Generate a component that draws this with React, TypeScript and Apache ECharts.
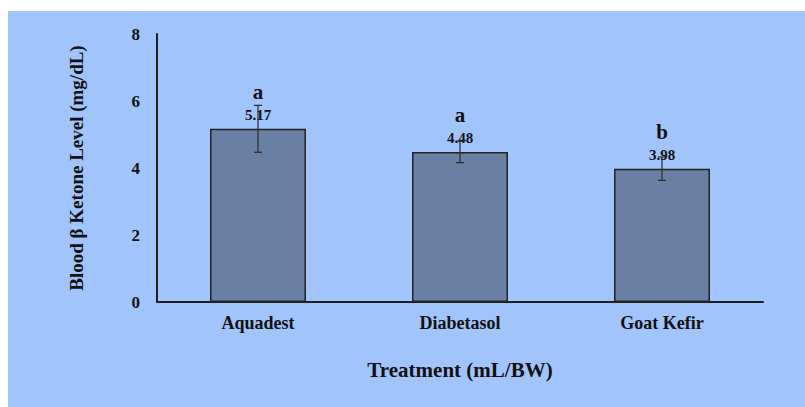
import React, { useEffect, useRef } from "react";
import * as echarts from "echarts";

const categories = ["Aquadest", "Diabetasol", "Goat Kefir"];
const means = [5.17, 4.48, 3.98];
const errors = [0.7, 0.32, 0.35];
const letters = ["a", "a", "b"];
const yTicks = [0, 2, 4, 6, 8];

const FONT = "'Liberation Serif', 'Times New Roman', serif";

export default function App() {
  const ref = useRef<HTMLDivElement>(null);
  useEffect(() => {
    if (!ref.current) return;
    const chart = echarts.init(ref.current, undefined, { renderer: "svg" });
    chart.setOption({
      animation: false,
      backgroundColor: "#ffffff",
      graphic: [
        {
          type: "rect",
          z: -10,
          shape: { x: 8, y: 11, width: 797, height: 396 },
          style: { fill: "#a1c4fc" },
          silent: true,
        },
      ],
      grid: { left: 157, right: 42, top: 34, bottom: 105 },
      xAxis: {
        type: "category",
        data: categories,
        axisLine: { lineStyle: { color: "#1f1f1f", width: 2 } },
        axisTick: { show: false },
        axisLabel: {
          margin: 12,
          color: "#111",
          fontFamily: FONT,
          fontWeight: "bold",
          fontSize: 18,
        },
        name: "Treatment (mL/BW)",
        nameLocation: "middle",
        nameGap: 57,
        nameTextStyle: {
          color: "#111",
          fontFamily: FONT,
          fontWeight: "bold",
          fontSize: 21,
        },
      },
      yAxis: {
        type: "value",
        min: yTicks[0],
        max: yTicks[yTicks.length - 1],
        interval: 2,
        axisLine: { show: true, lineStyle: { color: "#1f1f1f", width: 2 } },
        axisTick: { show: false },
        splitLine: { show: false },
        axisLabel: {
          margin: 17,
          color: "#111",
          fontFamily: FONT,
          fontWeight: "bold",
          fontSize: 17,
        },
        name: "Blood β Ketone Level (mg/dL)",
        nameLocation: "middle",
        nameGap: 71,
        nameTextStyle: {
          color: "#111",
          fontFamily: FONT,
          fontWeight: "bold",
          fontSize: 19,
        },
      },
      series: [
        {
          type: "bar",
          data: means,
          barWidth: "47.5%",
          itemStyle: { color: "#6a80a3", borderColor: "#222", borderWidth: 1.5 },
          label: {
            show: true,
            position: "top",
            distance: 6,
            formatter: (p: any) => `{l|${letters[p.dataIndex]}}\n{v|${p.value.toFixed(2)}}`,
            rich: {
              l: {
                fontFamily: FONT,
                fontWeight: "bold",
                fontSize: 21,
                color: "#111",
                lineHeight: 30,
              },
              v: {
                fontFamily: FONT,
                fontWeight: "bold",
                fontSize: 15,
                color: "#111",
                lineHeight: 16,
              },
            },
          },
          z: 2,
        },
        {
          type: "custom",
          data: means.map((m, i) => [i, m - errors[i], m + errors[i]]),
          z: 3,
          renderItem: (params: any, api: any) => {
            const x = api.value(0);
            const lo = api.coord([x, api.value(1)]);
            const hi = api.coord([x, api.value(2)]);
            const hw = 4;
            const style = { stroke: "#2a2a2a", lineWidth: 1.2 };
            return {
              type: "group",
              children: [
                { type: "line", shape: { x1: lo[0], y1: lo[1], x2: hi[0], y2: hi[1] }, style },
                { type: "line", shape: { x1: lo[0] - hw, y1: lo[1], x2: lo[0] + hw, y2: lo[1] }, style },
                { type: "line", shape: { x1: hi[0] - hw, y1: hi[1], x2: hi[0] + hw, y2: hi[1] }, style },
              ],
            };
          },
        },
      ],
    });
    return () => chart.dispose();
  }, []);
  return (
    <div
      ref={ref}
      style={{ position: "absolute", left: 0, top: 0, width: 805, height: 407 }}
    />
  );
}
